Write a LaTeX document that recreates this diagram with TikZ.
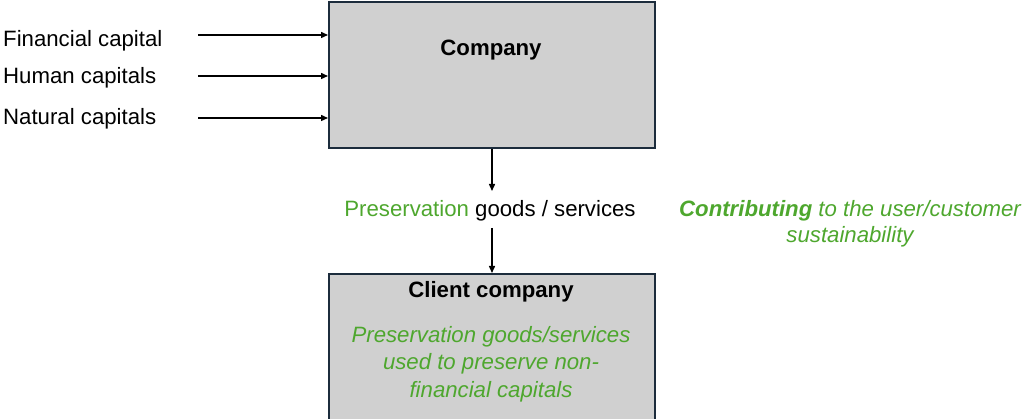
\documentclass[tikz,border=0pt]{standalone}
\usepackage{fontspec}
\setmainfont{Liberation Sans}
\usetikzlibrary{arrows.meta}
\definecolor{grn}{RGB}{78,167,46}
\definecolor{boxfill}{RGB}{208,208,208}
\definecolor{boxline}{RGB}{28,44,60}
\begin{document}
\begin{tikzpicture}[x=1pt,y=-1pt,
  box/.style={draw=boxline,line width=2pt,fill=boxfill,minimum width=326pt,inner sep=0pt},
  txt/.style={inner sep=0pt,font=\fontsize{22.2}{27.5}\selectfont},
  arr/.style={line width=1.4pt,-{Triangle[length=7pt,width=6pt]}}]
\useasboundingbox (0,0) rectangle (1028,419);
\node[box,minimum height=146pt] (comp) at (492,75) {};
\node[box,minimum height=150pt,anchor=north] (client) at (492,273) {};
\node[txt,font=\fontsize{22.2}{27.5}\selectfont\bfseries,anchor=base] (compt) at (491,56) {Company};
\node[txt,anchor=base west] (fin) at (3,47) {Financial capital};
\node[txt,anchor=base west] (hum) at (3,84) {Human capitals};
\node[txt,anchor=base west] (nat) at (3,125) {Natural capitals};
\coordinate (s1) at (198,35);
\coordinate (s2) at (198,76);
\coordinate (s3) at (198,118);
\draw[arr] (s1) -- (s1 -| comp.west);
\draw[arr] (s2) -- (s2 -| comp.west);
\draw[arr] (s3) -- (s3 -| comp.west);
\node[txt,anchor=base] (pres) at (490,217) {\textcolor{grn}{Preservation} goods / services};
\coordinate (p1) at (492,191);
\coordinate (p2) at (492,228);
\draw[arr] (comp.south) -- (p1);
\draw[arr] (p2) -- (client.north);
\node[txt,align=center,text=grn,font=\fontsize{22.2}{26}\selectfont\itshape] (contrib) at (850,224) {\textbf{Contributing} to the user/customer\\sustainability};
\node[txt,font=\fontsize{22.2}{27.5}\selectfont\bfseries,anchor=base] (clientt) at (491,298) {Client company};
\node[txt,align=center,text=grn,font=\fontsize{22.2}{27.5}\selectfont\itshape] (clientd) at (491,364) {Preservation goods/services\\used to preserve non-\\financial capitals};
\end{tikzpicture}
\end{document}
